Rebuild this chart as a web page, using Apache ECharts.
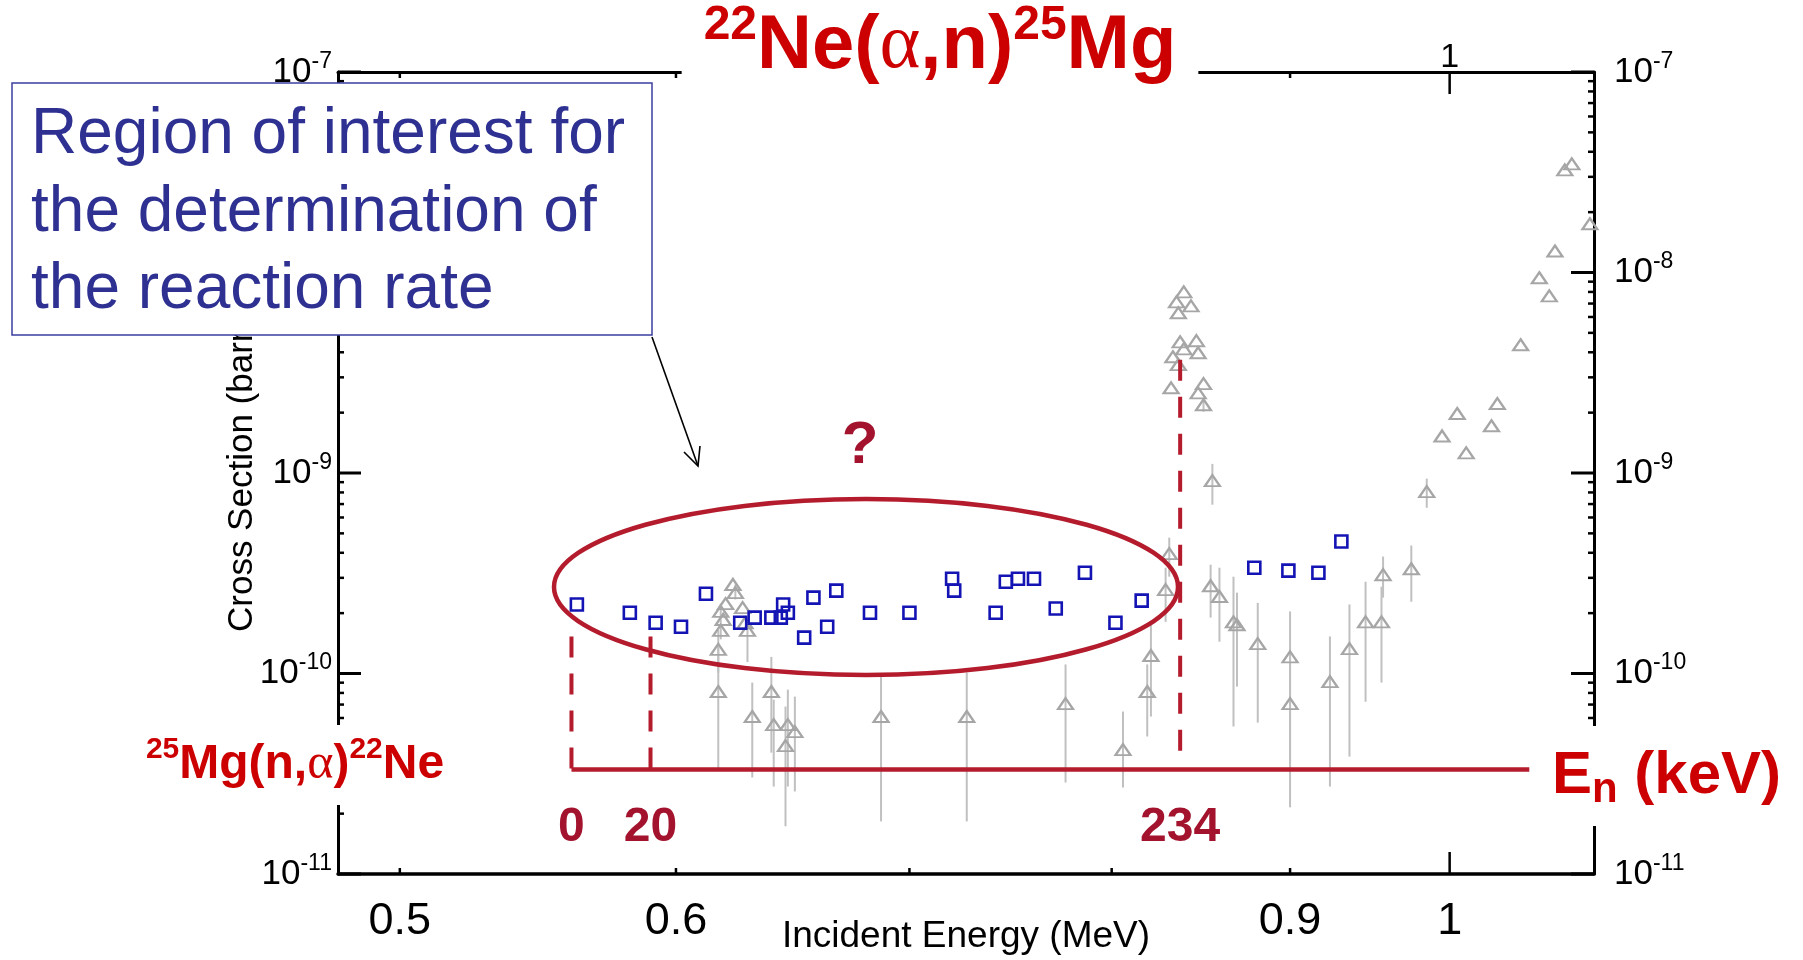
<!DOCTYPE html>
<html>
<head>
<meta charset="utf-8">
<script src="https://cdn.jsdelivr.net/npm/echarts@6/dist/echarts.min.js"></script>
<style>
  html, body { margin: 0; padding: 0; background: #fff; }
  #chart { width: 1803px; height: 960px; }
</style>
</head>
<body>
<div id="chart"></div>
<script>
// axis ranges
var X_MIN = 0.48, X_MAX = 1.1;
var Y_MIN = 1e-11, Y_MAX = 1e-7;

// blue squares (new data)
var sqEnergy = [0.562, 0.582, 0.592, 0.602, 0.612, 0.626, 0.632, 0.639, 0.643, 0.644, 0.646, 0.653, 0.657, 0.663, 0.667, 0.682,
  0.700, 0.720, 0.721, 0.741, 0.746, 0.752, 0.760, 0.771, 0.786, 0.802, 0.816, 0.879, 0.899, 0.917, 0.931];
var sqSigma = [2.21e-10, 2.01e-10, 1.79e-10, 1.71e-10, 2.50e-10, 1.79e-10, 1.90e-10, 1.90e-10, 1.90e-10, 2.21e-10, 2.01e-10, 1.51e-10,
  2.39e-10, 1.71e-10, 2.59e-10, 2.01e-10, 2.01e-10, 2.97e-10, 2.59e-10, 2.01e-10, 2.87e-10, 2.97e-10, 2.97e-10, 2.11e-10,
  3.18e-10, 1.79e-10, 2.31e-10, 3.37e-10, 3.26e-10, 3.18e-10, 4.55e-10];

// grey triangles (older data) with error bars
var triEnergy = [0.623, 0.624, 0.620, 0.627, 0.618, 0.619, 0.628, 0.618, 0.629, 0.617,
  0.617, 0.631, 0.639, 0.640, 0.646, 0.649, 0.645, 0.687, 0.727, 0.776,
  0.806, 0.819, 0.821, 0.829, 0.831, 0.854, 0.859, 0.867, 0.869, 0.881,
  0.900, 0.900, 0.924, 0.936, 0.946, 0.956, 0.957, 0.975, 0.985, 0.855,
  0.839, 0.835, 0.843, 0.836, 0.837, 0.846, 0.839, 0.847, 0.833, 0.836,
  0.832, 0.850, 0.847, 0.850, 0.995, 1.005, 1.011, 1.028, 1.032, 1.048,
  1.061, 1.068, 1.072, 1.097, 1.079, 1.084];
var triSigma = [2.78e-10, 2.53e-10, 2.23e-10, 2.13e-10, 2.04e-10, 1.86e-10, 1.79e-10, 1.64e-10, 1.64e-10, 1.32e-10,
  8.13e-11, 6.10e-11, 8.13e-11, 5.56e-11, 5.56e-11, 5.13e-11, 4.37e-11, 6.10e-11, 6.10e-11, 7.08e-11,
  4.17e-11, 8.13e-11, 1.23e-10, 2.62e-10, 3.96e-10, 2.74e-10, 2.42e-10, 1.81e-10, 1.75e-10, 1.41e-10,
  1.21e-10, 7.08e-11, 9.11e-11, 1.33e-10, 1.81e-10, 1.81e-10, 3.11e-10, 3.33e-10, 8.07e-10, 9.16e-10,
  8.01e-9, 7.14e-9, 6.82e-9, 6.30e-9, 4.51e-9, 4.57e-9, 4.16e-9, 3.98e-9, 3.80e-9, 3.47e-9,
  2.66e-9, 2.79e-9, 2.51e-9, 2.19e-9, 1.53e-9, 1.98e-9, 1.26e-9, 1.72e-9, 2.22e-9, 4.36e-9,
  9.41e-9, 7.65e-9, 1.28e-8, 1.75e-8, 3.25e-8, 3.48e-8];
var triLow = [null, 2.34e-10, null, null, 1.86e-10, null, null, 1.48e-10, 1.14e-10, 1.01e-10,
  3.32e-11, 3.03e-11, 4.03e-11, 2.73e-11, 2.73e-11, 2.58e-11, 1.73e-11, 1.83e-11, 1.83e-11, 2.86e-11,
  2.70e-11, 4.85e-11, 6.10e-11, 1.81e-10, 3.04e-10, 1.90e-10, 1.44e-10, 5.44e-11, 8.60e-11, 5.69e-11,
  3.60e-11, 2.15e-11, 2.73e-11, 3.85e-11, 7.23e-11, 9.01e-11, 2.39e-10, 2.28e-10, 6.71e-10, 6.95e-10,
  null, null, null, null, null, null, null, null, null, null,
  null, null, null, 2.02e-9, null, null, null, null, null, null,
  null, null, null, null, null, null];
var triHigh = [null, 2.78e-10, null, null, 2.23e-10, null, null, 1.86e-10, 1.75e-10, 1.65e-10,
  1.39e-10, 9.01e-11, 1.21e-10, 7.41e-11, 8.31e-11, 7.67e-11, 6.84e-11, 9.65e-11, 1.01e-10, 1.11e-10,
  6.46e-11, 1.11e-10, 1.79e-10, 3.37e-10, 4.76e-10, 3.49e-10, 3.37e-10, 3.04e-10, 2.53e-10, 2.25e-10,
  2.04e-10, 1.21e-10, 1.53e-10, 2.21e-10, 2.87e-10, 2.71e-10, 3.83e-10, 4.35e-10, 9.37e-10, 1.11e-9,
  null, null, null, null, null, null, null, null, null, null,
  null, null, null, 2.32e-9, null, null, null, null, null, null,
  null, null, null, null, null, null];

// neutron energy markers (keV) and where they sit on the alpha-energy axis
var enLabels = ['0', '20', '234'];
var enAlphaE = [0.560, 0.590, 0.837];
var enDashTop = [1.53e-10, 1.53e-10, 3.67e-9];
var enDashBottom = [3.32e-11, 3.32e-11, 4.03e-11];
var enLineSigma = 3.32e-11;
var enLineEnd = 1.054;

// tick labels
var xLabelsBottom = [0.5, 0.6, 0.9, 1];
var xLabelsTop = [1];
var xMinorTicks = [0.5, 0.6, 0.7, 0.8, 0.9];
var xMajorTicks = [1];
var yDecades = [1e-11, 1e-10, 1e-9, 1e-8, 1e-7];

var FONT = "'Liberation Sans', Arial, sans-serif";
var RED = '#cc0000';
var DARKRED = '#a3132e';
var LINERED = '#b41c2d';

var yMinor = [];
for (var d = 0; d < yDecades.length - 1; d++) {
  for (var m = 2; m <= 9; m++) yMinor.push(yDecades[d] * m);
}

var myChart = echarts.init(document.getElementById('chart'));

function expLabel(v) {
  var e = Math.round(Math.log10(v));
  return '{b|10}{e|' + e + '}';
}
var yRich = {
  b: { fontSize: 35, fontFamily: FONT, color: '#000', lineHeight: 44 },
  e: { fontSize: 23, fontFamily: FONT, color: '#000', lineHeight: 20, verticalAlign: 'top' }
};

// tick marks, drawn through the axes' scales
function yTickItem(side) {
  return function (params, api) {
    var p = api.coord([api.value(0), api.value(1)]);
    var major = api.value(2) === 1;
    var len = major ? 23 : 6;
    var dir = side === 'left' ? 1 : -1;
    return {
      type: 'line',
      shape: { x1: p[0], y1: p[1], x2: p[0] + dir * len, y2: p[1] },
      style: { stroke: '#000', lineWidth: major ? 3 : 2.5 }
    };
  };
}
function xTickItem(params, api) {
  var b = api.coord([api.value(0), Y_MIN]);
  var t = api.coord([api.value(0), Y_MAX]);
  var major = api.value(1) === 1;
  var len = major ? 22 : 6;
  return {
    type: 'group',
    children: [
      { type: 'line', shape: { x1: b[0], y1: b[1], x2: b[0], y2: b[1] - len }, style: { stroke: '#000', lineWidth: 2.5 } },
      { type: 'line', shape: { x1: t[0], y1: t[1], x2: t[0], y2: t[1] + len }, style: { stroke: '#000', lineWidth: 2.5 } }
    ]
  };
}

var yTickData = [];
yDecades.forEach(function (v) { yTickData.push([v, 1]); });
yMinor.forEach(function (v) { yTickData.push([v, 0]); });

var errData = [];
for (var i = 0; i < triEnergy.length; i++) {
  if (triLow[i] != null) errData.push([triEnergy[i], triLow[i], triHigh[i]]);
}

option = {
  backgroundColor: '#fff',
  animation: false,
  grid: { left: 338, right: 209, top: 72, bottom: 86 },
  xAxis: [
    {
      type: 'log', logBase: 10, min: X_MIN, max: X_MAX, position: 'bottom',
      axisLine: { lineStyle: { color: '#000', width: 3.5 } },
      axisTick: { show: false }, axisLabel: { show: false }, splitLine: { show: false },
      name: 'Incident Energy (MeV)', nameLocation: 'middle', nameGap: 44,
      nameTextStyle: { fontSize: 37, fontFamily: FONT, color: '#000' }
    },
    {
      type: 'log', logBase: 10, min: X_MIN, max: X_MAX, position: 'top',
      axisLine: { lineStyle: { color: '#000', width: 3 } },
      axisTick: { show: false }, axisLabel: { show: false }, splitLine: { show: false }
    }
  ],
  yAxis: [
    {
      type: 'log', logBase: 10, min: Y_MIN, max: Y_MAX, position: 'left',
      axisLine: { lineStyle: { color: '#000', width: 3 } },
      axisTick: { show: false }, splitLine: { show: false },
      axisLabel: { margin: 6, formatter: expLabel, rich: yRich }
    },
    {
      type: 'log', logBase: 10, min: Y_MIN, max: Y_MAX, position: 'right',
      axisLine: { lineStyle: { color: '#000', width: 3 } },
      axisTick: { show: false }, splitLine: { show: false },
      axisLabel: { margin: 20, formatter: expLabel, rich: yRich }
    }
  ],
  series: [
    {
      name: 'yTicksLeft', type: 'custom', clip: false, silent: true, z: 5,
      encode: { x: 0, y: 1 },
      renderItem: yTickItem('left'),
      data: yTickData.map(function (t) { return [X_MIN, t[0], t[1]]; })
    },
    {
      name: 'yTicksRight', type: 'custom', clip: false, silent: true, z: 5,
      encode: { x: 0, y: 1 },
      renderItem: yTickItem('right'),
      data: yTickData.map(function (t) { return [X_MAX, t[0], t[1]]; })
    },
    {
      name: 'xTicks', type: 'custom', clip: false, silent: true, z: 5,
      encode: { x: 0 },
      renderItem: xTickItem,
      data: xMinorTicks.map(function (v) { return [v, 0]; }).concat(xMajorTicks.map(function (v) { return [v, 1]; }))
    },
    {
      name: 'xLabels', type: 'custom', clip: false, silent: true, z: 5,
      encode: { x: 0 },
      renderItem: function (params, api) {
        var top = api.value(1) === 1;
        var p = api.coord([api.value(0), top ? Y_MAX : Y_MIN]);
        return {
          type: 'text', x: p[0], y: top ? p[1] - 14 : p[1] + 48,
          style: {
            text: String(api.value(0)), fill: '#000', font: (top ? 34 : 45) + 'px ' + FONT,
            textAlign: 'center', textVerticalAlign: 'middle'
          }
        };
      },
      data: xLabelsBottom.map(function (v) { return [v, 0]; }).concat(xLabelsTop.map(function (v) { return [v, 1]; }))
    },
    {
      name: 'errorBars', type: 'custom', silent: true, z: 3,
      encode: { x: 0, y: [1, 2] },
      renderItem: function (params, api) {
        var lo = api.coord([api.value(0), api.value(1)]);
        var hi = api.coord([api.value(0), api.value(2)]);
        return {
          type: 'line',
          shape: { x1: lo[0], y1: lo[1], x2: hi[0], y2: hi[1] },
          style: { stroke: '#c0c0c0', lineWidth: 2 }
        };
      },
      data: errData
    },
    {
      name: 'previous data', type: 'scatter', z: 4,
      symbol: 'triangle', symbolSize: [15, 11],
      itemStyle: { color: 'rgba(255,255,255,0)', borderColor: '#a6a6a6', borderWidth: 2.2, opacity: 1 },
      data: triEnergy.map(function (e, i) { return [e, triSigma[i]]; })
    },
    {
      name: 'new data', type: 'scatter', z: 6,
      symbol: 'rect', symbolSize: 12,
      itemStyle: { color: 'rgba(255,255,255,0)', borderColor: '#1414b4', borderWidth: 2.6, opacity: 1 },
      data: sqEnergy.map(function (e, i) { return [e, sqSigma[i]]; })
    },
    {
      name: 'En axis', type: 'line', z: 7, symbol: 'none', silent: true,
      lineStyle: { color: LINERED, width: 4.5 },
      data: [[enAlphaE[0], enLineSigma], [enLineEnd, enLineSigma]]
    },
    {
      name: 'En marks', type: 'custom', clip: false, silent: true, z: 7,
      encode: { x: 0, y: [1, 2] },
      renderItem: function (params, api) {
        var top = api.coord([api.value(0), api.value(1)]);
        var bot = api.coord([api.value(0), api.value(2)]);
        var base = api.coord([api.value(0), enLineSigma]);
        return {
          type: 'group',
          children: [
            { type: 'line', shape: { x1: top[0], y1: top[1], x2: bot[0], y2: bot[1] },
              style: { stroke: LINERED, lineWidth: 4, lineDash: [21, 16] } },
            { type: 'text', x: base[0], y: base[1] + 58,
              style: { text: enLabels[params.dataIndex], fill: DARKRED, font: 'bold 48px ' + FONT,
                textAlign: 'center', textVerticalAlign: 'middle' } }
          ]
        };
      },
      data: enAlphaE.map(function (e, i) { return [e, enDashTop[i], enDashBottom[i]]; })
    }
  ],
  graphic: [
    {
      // y axis title (sits slightly above the axis middle, as in the original)
      type: 'text', z: 10, silent: true, x: 242, y: 632, rotation: Math.PI / 2,
      style: {
        text: 'Cross Section (barn)', fill: '#000', font: '35px ' + FONT,
        textAlign: 'left', textVerticalAlign: 'middle'
      }
    },
    {
      type: 'ellipse', z: 50, silent: true,
      shape: { cx: 866, cy: 587, rx: 312, ry: 88 },
      style: { fill: 'none', stroke: LINERED, lineWidth: 4.5 }
    },
    {
      type: 'polyline', z: 50, silent: true,
      shape: { points: [[652, 337], [698, 466]] },
      style: { stroke: '#000', lineWidth: 1.6, fill: 'none' }
    },
    {
      type: 'polyline', z: 50, silent: true,
      shape: { points: [[700, 446], [698, 466], [684, 452]] },
      style: { stroke: '#000', lineWidth: 1.6, fill: 'none' }
    },
    {
      type: 'rect', z: 60, silent: true,
      shape: { x: 12, y: 83, width: 640, height: 252 },
      style: { fill: '#fff', stroke: '#3b3f9e', lineWidth: 1.5 }
    },
    {
      type: 'text', z: 61, silent: true, x: 31, y: 97,
      style: {
        text: 'Region of interest for\nthe determination of\nthe reaction rate',
        fill: '#2e3192', font: '64px ' + FONT, lineHeight: 77.5,
        textAlign: 'left', textVerticalAlign: 'top'
      }
    },
    {
      type: 'text', z: 61, silent: true, x: 940, y: 47,
      style: {
        text: '{s|22}{b|Ne(}{a|α}{b|,n)}{s|25}{b|Mg}',
        backgroundColor: '#fff', padding: [0, 22, 0, 22],
        textAlign: 'center', textVerticalAlign: 'middle',
        rich: {
          b: { fontSize: 76, fontWeight: 'bold', fontFamily: FONT, fill: RED, color: RED, lineHeight: 90 },
          a: { fontSize: 78, fontFamily: "'Liberation Serif', serif", fill: RED, color: RED, lineHeight: 90 },
          s: { fontSize: 48, fontWeight: 'bold', fontFamily: FONT, fill: RED, color: RED, lineHeight: 60, verticalAlign: 'top' }
        }
      }
    },
    {
      type: 'text', z: 61, silent: true, x: 860, y: 446,
      style: { text: '?', fill: DARKRED, font: 'bold 60px ' + FONT, textAlign: 'center', textVerticalAlign: 'middle' }
    },
    {
      type: 'text', z: 61, silent: true, x: 295, y: 765,
      style: {
        text: '{s|25}{b|Mg(n,}{a|α}{b|)}{s|22}{b|Ne}',
        backgroundColor: '#fff', padding: [10, 8, 10, 8],
        textAlign: 'center', textVerticalAlign: 'middle',
        rich: {
          b: { fontSize: 48, fontWeight: 'bold', fontFamily: FONT, fill: RED, color: RED, lineHeight: 60 },
          a: { fontSize: 50, fontFamily: "'Liberation Serif', serif", fill: RED, color: RED, lineHeight: 60 },
          s: { fontSize: 30, fontWeight: 'bold', fontFamily: FONT, fill: RED, color: RED, lineHeight: 40, verticalAlign: 'top' }
        }
      }
    },
    {
      type: 'text', z: 61, silent: true, x: 1552, y: 776,
      style: {
        text: '{b|E}{n|n}{b| (keV)}',
        backgroundColor: '#fff', padding: [15, 6, 15, 0],
        textAlign: 'left', textVerticalAlign: 'middle',
        rich: {
          b: { fontSize: 60, fontWeight: 'bold', fontFamily: FONT, fill: RED, color: RED, lineHeight: 70 },
          n: { fontSize: 42, fontWeight: 'bold', fontFamily: FONT, fill: RED, color: RED, lineHeight: 16, verticalAlign: 'bottom' }
        }
      }
    }
  ]
};

myChart.setOption(option);
</script>
</body>
</html>
